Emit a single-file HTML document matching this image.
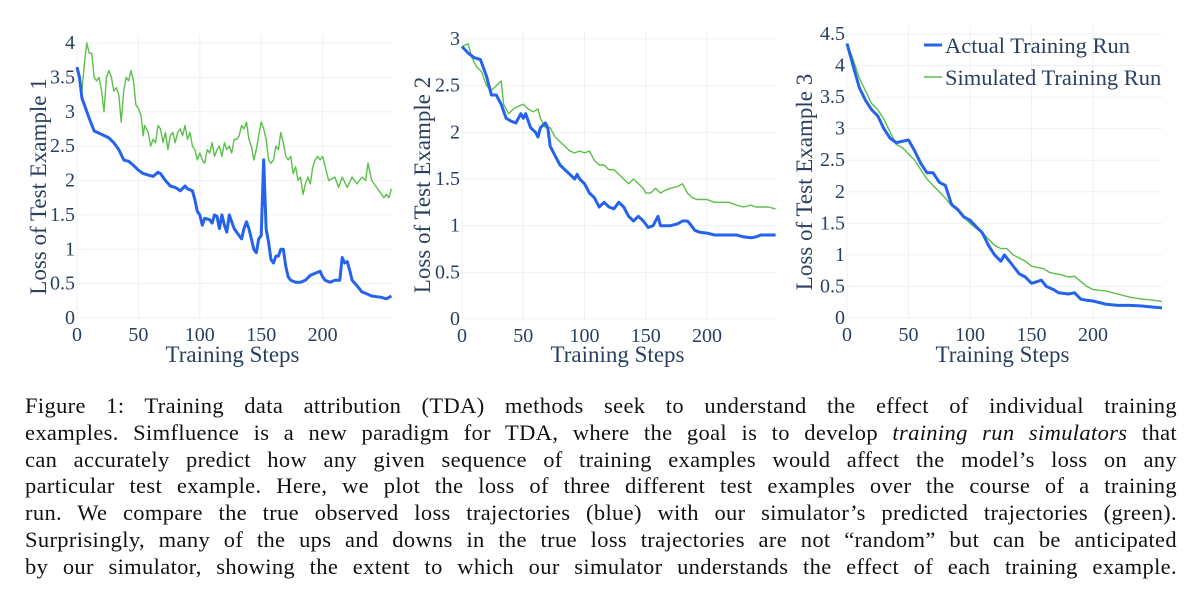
<!DOCTYPE html>
<html><head><meta charset="utf-8">
<style>
html,body{margin:0;padding:0;background:#fff;}
body{width:1200px;height:610px;position:relative;overflow:hidden;}
svg{position:absolute;left:0;top:0;}
.cap{position:absolute;left:25px;width:1152px;font-family:"Liberation Serif",serif;font-size:22.5px;letter-spacing:0.35px;color:#111;text-align:justify;text-align-last:justify;line-height:26.8px;}
.cap div{height:26.8px;overflow:hidden;white-space:nowrap;}
.cap div.j{white-space:normal;}
</style></head><body>
<svg id="chart" width="1200" height="380"></svg>
<div class="cap" style="top:393px">
<div class="j">Figure 1: Training data attribution (TDA) methods seek to understand the effect of individual training</div>
<div class="j">examples. Simfluence is a new paradigm for TDA, where the goal is to develop <i>training run simulators</i> that</div>
<div class="j">can accurately predict how any given sequence of training examples would affect the model’s loss on any</div>
<div class="j">particular test example. Here, we plot the loss of three different test examples over the course of a training</div>
<div class="j">run. We compare the true observed loss trajectories (blue) with our simulator’s predicted trajectories (green).</div>
<div class="j">Surprisingly, many of the ups and downs in the true loss trajectories are not “random” but can be anticipated</div>
<div class="j">by our simulator, showing the extent to which our simulator understands the effect of each training example.</div>
</div>
<script>
const xTicks=[0,50,100,150,200];
const p1Steps=[0,2,4,6,10,14,20,26,30,34,38,42,46,50,54,58,62,66,68,72,76,80,84,88,90,94,96,98,100,102,104,108,110,112,114,116,118,120,122,124,126,128,130,132,134,136,138,140,142,144,146,148,150,152,154,156,158,160,162,164,166,168,170,172,174,178,182,186,190,194,198,200,202,206,210,214,216,218,220,222,224,228,232,236,240,244,248,252,256];
const p1Actual=[3.65,3.5,3.2,3.1,2.9,2.72,2.67,2.62,2.55,2.45,2.3,2.28,2.22,2.15,2.1,2.08,2.06,2.12,2.1,2.0,1.92,1.9,1.85,1.92,1.88,1.85,1.72,1.55,1.5,1.35,1.45,1.43,1.38,1.5,1.48,1.3,1.5,1.35,1.25,1.5,1.4,1.3,1.25,1.2,1.15,1.3,1.4,1.3,1.15,1.0,0.95,1.15,1.2,2.3,1.3,1.1,0.85,0.8,0.9,0.9,1.0,1.0,0.75,0.6,0.55,0.52,0.52,0.55,0.62,0.65,0.68,0.6,0.55,0.52,0.55,0.55,0.88,0.8,0.82,0.7,0.55,0.47,0.38,0.35,0.32,0.31,0.3,0.28,0.32];
const p1SimSteps=[0,2,4,6,8,10,12,14,16,18,20,22,24,26,28,30,32,34,36,38,40,42,44,46,48,50,52,54,55,58,60,62,64,66,68,70,72,74,76,78,80,82,84,86,88,90,92,94,96,98,100,102,104,106,108,110,112,114,116,118,120,122,124,126,128,130,132,134,136,138,140,142,144,146,148,150,152,154,156,158,160,162,164,166,168,170,172,174,176,178,180,182,184,186,188,190,192,194,196,198,200,205,210,213,216,220,224,228,232,235,237,240,244,248,250,252,254,256];
const p1Sim=[3.65,3.5,3.3,3.7,4.0,3.85,3.85,3.5,3.45,3.5,3.3,3.0,3.5,3.6,3.5,3.3,3.35,3.25,2.85,3.3,3.5,3.45,3.6,3.45,3.1,3.05,2.95,2.65,2.8,2.7,2.5,2.6,2.55,2.8,2.75,2.55,2.7,2.45,2.65,2.7,2.55,2.7,2.75,2.65,2.8,2.6,2.7,2.5,2.45,2.3,2.4,2.3,2.25,2.45,2.4,2.55,2.35,2.45,2.5,2.35,2.55,2.45,2.5,2.4,2.6,2.6,2.65,2.8,2.75,2.85,2.6,2.5,2.3,2.45,2.65,2.85,2.75,2.6,2.3,2.25,2.3,2.5,2.45,2.7,2.55,2.35,2.3,2.35,2.1,2.2,2.0,2.05,1.8,1.95,2.05,1.95,2.2,2.3,2.35,2.3,2.35,2.0,2.05,1.9,2.05,1.9,2.05,1.95,2.05,2.0,2.25,2.0,1.9,1.8,1.75,1.8,1.75,1.88];
const p2Steps=[0,5,10,15,20,24,28,32,36,40,44,48,50,52,56,60,62,64,68,70,72,76,80,84,88,92,94,96,100,104,108,112,116,120,124,128,132,136,140,144,148,152,156,160,162,166,170,176,180,184,186,190,194,200,206,212,218,224,230,236,240,244,248,256];
const p2Actual=[2.92,2.85,2.8,2.78,2.6,2.4,2.4,2.3,2.15,2.12,2.1,2.2,2.15,2.2,2.05,2.0,1.95,2.05,2.1,2.05,1.85,1.75,1.65,1.6,1.55,1.5,1.55,1.5,1.45,1.35,1.3,1.2,1.25,1.2,1.18,1.25,1.2,1.1,1.05,1.1,1.05,0.98,1.0,1.1,1.0,1.0,1.0,1.02,1.05,1.05,1.02,0.95,0.93,0.92,0.9,0.9,0.9,0.9,0.88,0.87,0.88,0.9,0.9,0.9];
const p2SimSteps=[0,5,8,12,16,20,24,28,32,34,38,42,46,50,54,58,62,64,68,72,76,80,84,88,92,96,100,104,108,112,116,120,124,128,132,136,140,144,148,150,154,158,162,166,170,176,180,184,188,192,196,200,206,212,218,224,230,236,240,244,250,256];
const p2Sim=[2.92,2.95,2.8,2.7,2.65,2.5,2.45,2.5,2.55,2.3,2.2,2.25,2.28,2.3,2.25,2.22,2.25,2.15,2.05,2.05,1.95,1.9,1.85,1.8,1.78,1.8,1.78,1.8,1.7,1.65,1.65,1.6,1.6,1.55,1.5,1.45,1.5,1.45,1.4,1.35,1.35,1.4,1.35,1.38,1.4,1.42,1.45,1.35,1.3,1.28,1.28,1.28,1.25,1.25,1.25,1.22,1.2,1.22,1.2,1.2,1.2,1.18];
const p3Steps=[0,5,10,15,20,25,30,35,40,45,50,55,60,65,70,75,80,85,90,95,100,105,110,115,120,125,128,132,136,140,145,150,155,158,162,168,172,180,185,190,195,200,210,220,230,240,250,256];
const p3Actual=[4.35,4.0,3.65,3.45,3.3,3.2,3.0,2.85,2.78,2.8,2.82,2.65,2.45,2.3,2.3,2.15,2.1,1.8,1.72,1.6,1.55,1.45,1.35,1.15,1.0,0.9,1.0,0.9,0.8,0.7,0.65,0.55,0.58,0.6,0.5,0.45,0.4,0.38,0.4,0.3,0.28,0.27,0.22,0.2,0.2,0.19,0.17,0.16];
const p3SimSteps=[0,5,10,15,20,25,30,35,40,45,50,55,60,65,70,75,80,85,90,95,100,105,110,115,120,125,130,135,140,145,150,155,160,165,170,175,180,185,190,195,200,210,220,230,240,250,256];
const p3Sim=[4.35,4.1,3.8,3.6,3.4,3.3,3.15,2.95,2.75,2.7,2.6,2.5,2.35,2.2,2.1,2.0,1.9,1.78,1.7,1.6,1.5,1.42,1.35,1.25,1.15,1.1,1.1,1.0,0.95,0.9,0.82,0.8,0.78,0.72,0.7,0.68,0.65,0.66,0.58,0.5,0.45,0.43,0.38,0.33,0.3,0.28,0.26];

const panels=[
 {x0:77,x1:392,ymin:0,ymax:4,yTop:43,yBot:318,yt:[0,0.5,1,1.5,2,2.5,3,3.5,4],ylab:"Loss of Test Example 1",tx:46,a:[p1Steps,p1Actual],s:[p1SimSteps,p1Sim],w:1.228},
 {x0:462,x1:777,ymin:0,ymax:3,yTop:39,yBot:319,yt:[0,0.5,1,1.5,2,2.5,3],ylab:"Loss of Test Example 2",tx:430,a:[p2Steps,p2Actual],s:[p2SimSteps,p2Sim],w:1.225},
 {x0:847,x1:1162,ymin:0,ymax:4.5,yTop:34,yBot:318,yt:[0,0.5,1,1.5,2,2.5,3,3.5,4,4.5],ylab:"Loss of Test Example 3",tx:812,a:[p3Steps,p3Actual],s:[p3SimSteps,p3Sim],w:1.23}
];
const NS="http://www.w3.org/2000/svg";
const svg=document.getElementById('chart');
function mk(t,attrs,parent){const e=document.createElementNS(NS,t);for(const k in attrs)e.setAttribute(k,attrs[k]);(parent||svg).appendChild(e);return e;}
const FONT='"Liberation Serif",serif';
panels.forEach((p,i)=>{
 const g=mk('g',{});
 
 
 const X=v=>p.x0+v*p.w;
 const Y=v=>p.yBot-(v-p.ymin)/(p.ymax-p.ymin)*(p.yBot-p.yTop);
 xTicks.forEach(t=>{
  const l=mk('line',{x1:X(t),x2:X(t),y1:p.yTop-8,y2:p.yBot,stroke:'#edf0f6','stroke-width':1},g);
  
  
  const tx=mk('text',{x:X(t),y:p.yBot+23,'text-anchor':'middle','font-family':FONT,'font-size':20,fill:'#2a3f5f'},g);
  tx.textContent=t;
  
  
 });
 p.yt.forEach(t=>{
  const l=mk('line',{x1:p.x0,x2:p.x1,y1:Y(t),y2:Y(t),stroke:'#edf0f6','stroke-width':1},g);
  
  
  const tx=mk('text',{x:p.x0-2,y:Y(t)+6,'text-anchor':'end','font-family':FONT,'font-size':20,fill:'#2a3f5f'},g);
  tx.textContent=t;
  
  
 });
 const xt=mk('text',{x:(p.x0+p.x1)/2-2,y:362,'text-anchor':'middle','font-family':FONT,'font-size':23,fill:'#2a3f5f'},g);
 xt.textContent='Training Steps';
 
 
 const yl=mk('text',{x:0,y:0,'text-anchor':'middle','font-family':FONT,'font-size':23,fill:'#2a3f5f',transform:`translate(${p.tx},${(p.yTop+p.yBot)/2+6}) rotate(-90)`},g);
 yl.textContent=p.ylab;
 
 
 const path=(xs,ys)=>xs.map((x,j)=>(j?'L':'M')+X(x).toFixed(1)+','+Y(ys[j]).toFixed(1)).join('');
 const sl=mk('path',{d:path(p.s[0],p.s[1]),fill:'none',stroke:'#5cbf4a','stroke-width':1.4,'stroke-linejoin':'round'},g);
 
 
 const al=mk('path',{d:path(p.a[0],p.a[1]),fill:'none',stroke:'#2563eb','stroke-width':3,'stroke-linejoin':'round'},g);
 
 
});
const lg=mk('g',{});


const l1=mk('line',{x1:924,x2:942,y1:45,y2:45,stroke:'#2563eb','stroke-width':3},lg);


const t1=mk('text',{x:945,y:53,'font-family':FONT,'font-size':22.5,fill:'#2a3f5f'},lg);
t1.textContent='Actual Training Run';


const l2=mk('line',{x1:924,x2:942,y1:77,y2:77,stroke:'#5cbf4a','stroke-width':1.4},lg);


const t2=mk('text',{x:945,y:85,'font-family':FONT,'font-size':22.5,fill:'#2a3f5f'},lg);
t2.textContent='Simulated Training Run';


</script>
</body></html>
